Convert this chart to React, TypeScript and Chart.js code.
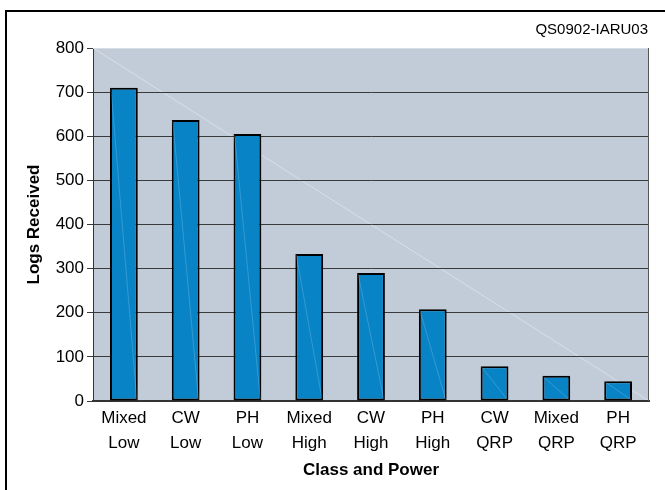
import React, { useEffect, useRef } from "react";
import { Chart, registerables } from "chart.js";

Chart.register(...registerables);

const categories: string[][] = [
  ["Mixed", "Low"],
  ["CW", "Low"],
  ["PH", "Low"],
  ["Mixed", "High"],
  ["CW", "High"],
  ["PH", "High"],
  ["CW", "QRP"],
  ["Mixed", "QRP"],
  ["PH", "QRP"],
];
const logsReceived: number[] = [710, 637, 605, 333, 290, 208, 79, 57, 45];
const yTicks: number[] = [0, 100, 200, 300, 400, 500, 600, 700, 800];
const chartCode = "QS0902-IARU03";
const yTitle = "Logs Received";
const xTitle = "Class and Power";

const FONT = "'Liberation Sans', Arial, sans-serif";

const decor = {
  id: "decor",
  beforeDraw(chart: any) {
    const { ctx, chartArea: a } = chart;
    ctx.save();
    ctx.fillStyle = "#ffffff";
    ctx.fillRect(0, 0, chart.width, chart.height);
    ctx.fillStyle = "#c2ccd8";
    ctx.fillRect(a.left, a.top, a.right - a.left, a.bottom - a.top);
    ctx.strokeStyle = "rgba(255,255,255,0.35)";
    ctx.lineWidth = 1;
    ctx.beginPath();
    ctx.moveTo(a.left, a.top);
    ctx.lineTo(a.right, a.bottom);
    ctx.stroke();
    ctx.restore();
  },
  afterDatasetsDraw(chart: any) {
    const { ctx, chartArea: a } = chart;
    ctx.save();
    const meta = chart.getDatasetMeta(0);
    ctx.strokeStyle = "rgba(255,255,255,0.18)";
    ctx.lineWidth = 1;
    meta.data.forEach((bar: any) => {
      const p = bar.getProps(["x", "y", "base", "width"], true);
      ctx.beginPath();
      ctx.moveTo(p.x - p.width / 2 + 1, p.y + 1);
      ctx.lineTo(p.x + p.width / 2 - 1, p.base - 1);
      ctx.stroke();
    });
    // plot frame: top light, right dark
    ctx.strokeStyle = "#d8dee6";
    ctx.beginPath();
    ctx.moveTo(a.left, a.top + 0.5);
    ctx.lineTo(a.right, a.top + 0.5);
    ctx.stroke();
    ctx.strokeStyle = "#555555";
    ctx.beginPath();
    ctx.moveTo(a.right - 0.5, a.top);
    ctx.lineTo(a.right - 0.5, a.bottom);
    ctx.stroke();
    // outer border
    ctx.strokeStyle = "#000000";
    ctx.lineWidth = 2;
    ctx.strokeRect(6, 11, chart.width + 20, chart.height + 20);
    // code label
    ctx.fillStyle = "#000000";
    ctx.font = `15px ${FONT}`;
    ctx.textAlign = "right";
    ctx.textBaseline = "middle";
    ctx.fillText(chartCode, 648, 30);
    ctx.restore();
  },
};

export default function App() {
  const ref = useRef<HTMLCanvasElement | null>(null);
  useEffect(() => {
    if (!ref.current) return;
    const chart = new Chart(ref.current, {
      type: "bar",
      data: {
        labels: categories,
        datasets: [
          {
            data: logsReceived,
            backgroundColor: "#0783c6",
            borderColor: "#000000",
            borderWidth: 2,
            borderSkipped: false,
            barPercentage: 0.45,
            categoryPercentage: 1,
          },
        ],
      },
      options: {
        animation: false,
        responsive: false,
        maintainAspectRatio: false,
        layout: { padding: { top: 48, right: 16, left: 0, bottom: 0 } },
        plugins: { legend: { display: false }, tooltip: { enabled: false }, title: { display: false } },
        scales: {
          x: {
            grid: { display: false },
            border: { display: true, color: "#333333", width: 2 },
            ticks: { color: "#000", font: { family: FONT, size: 17, lineHeight: 1.45 }, padding: -3, maxRotation: 0, autoSkip: false },
            title: { display: true, text: xTitle, color: "#000", font: { family: FONT, size: 17, weight: "bold" }, padding: { top: 2, bottom: 9 } },
            afterFit(scale: any) { scale.height = 89; },
          },
          y: {
            min: 0,
            max: 800,
            afterBuildTicks(scale: any) { scale.ticks = yTicks.map((v) => ({ value: v })); },
            grid: { color: "#3a3a3a", lineWidth: 1, tickLength: 6, drawTicks: true },
            border: { display: true, color: "#333333", width: 1 },
            ticks: { color: "#000", font: { family: FONT, size: 17 }, padding: 3 },
            title: { display: true, text: yTitle, color: "#000", font: { family: FONT, size: 17, weight: "bold" }, padding: { top: 24, bottom: 0 } },
            afterFit(scale: any) { scale.width = 93; },
          },
        },
      },
      plugins: [decor],
    });
    return () => chart.destroy();
  }, []);
  return (
    <div style={{ position: "fixed", left: 0, top: 0, width: 665, height: 490 }}>
      <canvas ref={ref} width={665} height={490} style={{ width: 665, height: 490 }} />
    </div>
  );
}
